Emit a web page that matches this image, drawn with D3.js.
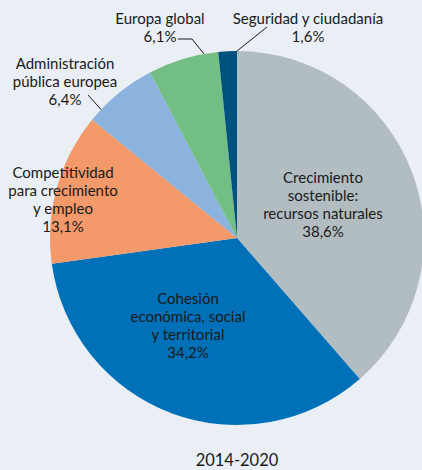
<!DOCTYPE html>
<html>
<head>
<meta charset="utf-8">
<script src="https://cdn.jsdelivr.net/npm/d3@7"></script>
<style>
  html, body { margin: 0; padding: 0; background: #e9eff4; }
  svg { display: block; }
  text { font-family: Lato, "Open Sans", sans-serif; fill: #1a1a1a; }
</style>
</head>
<body>
<svg width="422" height="470"></svg>
<script>
// datos del gráfico (porcentaje del presupuesto)
const categories = [
  "Crecimiento sostenible: recursos naturales",
  "Cohesión económica, social y territorial",
  "Competitividad para crecimiento y empleo",
  "Administración pública europea",
  "Europa global",
  "Seguridad y ciudadanía"
];
const values = [38.6, 34.2, 13.1, 6.4, 6.1, 1.6];
const valueLabels = ["38,6%", "34,2%", "13,1%", "6,4%", "6,1%", "1,6%"];
const labelLines = [
  ["Crecimiento", "sostenible:", "recursos naturales"],
  ["Cohesión", "económica, social", "y territorial"],
  ["Competitividad", "para crecimiento", "y empleo"],
  ["Administración", "pública europea"],
  ["Europa global"],
  ["Seguridad y ciudadanía"]
];
const period = "2014-2020";

const colors = ["#b2bdc2", "#0071b9", "#f3996a", "#8cb2de", "#72be84", "#00527e"];

// posiciones de las etiquetas (centro del texto, primera línea)
const labelPos = [
  { x: 323, y: 178 },
  { x: 188, y: 299 },
  { x: 63, y: 173 },
  { x: 65, y: 64 },
  { x: 160, y: 19 },
  { x: 308, y: 19 }
];
// líneas guía: puntos fuera del pastel + posición dentro del sector (0..1)
const leaders = [
  null, null, null,
  { pts: [[88, 95]], t: 0.18 },
  { pts: [[178, 39], [192, 39]], t: 0.8 },
  { pts: [[267, 27]], t: 1.0 }
];

const svg = d3.select("svg");
const cx = 237, cy = 238, r = 187;
const lineH = 18;

const pie = d3.pie().sort(null).value((d) => d);
const arcs = pie(values);
const arc = d3.arc().innerRadius(0).outerRadius(r);

const g = svg.append("g").attr("transform", `translate(${cx},${cy})`);

g.selectAll("path")
  .data(arcs)
  .enter()
  .append("path")
  .attr("d", arc)
  .attr("fill", (d, i) => colors[i]);

// líneas guía
arcs.forEach((d, i) => {
  const ld = leaders[i];
  if (!ld) return;
  const a = d.startAngle + (d.endAngle - d.startAngle) * ld.t;
  const end = [cx + r * Math.sin(a), cy - r * Math.cos(a)];
  const pts = ld.pts.concat([end]);
  svg.append("path")
    .attr("d", d3.line()(pts))
    .attr("fill", "none")
    .attr("stroke", "#1a1a1a")
    .attr("stroke-width", 1);
});

// etiquetas
labelLines.forEach((lines, i) => {
  const t = svg.append("text")
    .attr("text-anchor", "middle")
    .attr("font-size", 15);
  lines.concat([valueLabels[i]]).forEach((s, j) => {
    t.append("tspan")
      .attr("x", labelPos[i].x)
      .attr("y", labelPos[i].y + j * lineH)
      .attr("dy", "0.35em")
      .text(s);
  });
});

svg.append("text")
  .attr("x", cx)
  .attr("y", 460)
  .attr("dy", "0.35em")
  .attr("text-anchor", "middle")
  .attr("font-size", 16.5)
  .text(period);
</script>
</body>
</html>
